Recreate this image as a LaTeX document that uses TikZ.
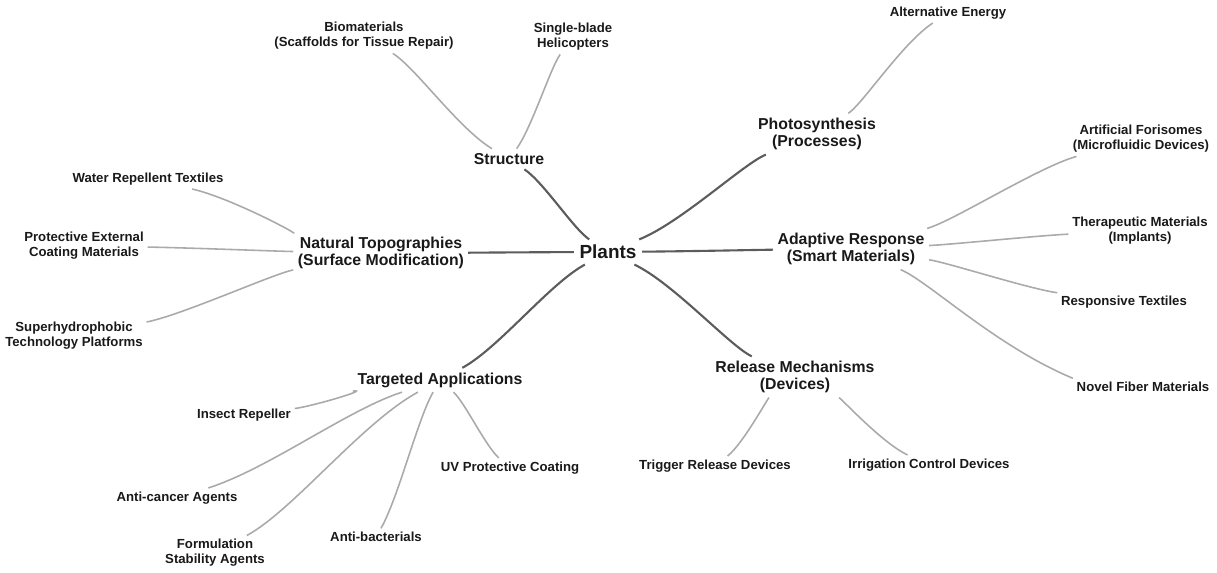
\documentclass[tikz,border=0pt]{standalone}
\usepackage{fontspec}
\setmainfont{Liberation Sans}
\usepackage{tikz}
\usetikzlibrary{calc}
\definecolor{trunk}{RGB}{92,92,92}
\definecolor{twig}{RGB}{170,170,170}
\definecolor{ink}{RGB}{25,25,25}

\begin{document}
\begin{tikzpicture}[x=0.02cm, y=-0.02cm,
    root/.style={text=ink, inner sep=3pt, font=\fontsize{10.8}{12}\selectfont\bfseries},
    topic/.style={text=ink, inner sep=2.5pt, align=center, font=\fontsize{9}{9.7}\selectfont\bfseries},
    leaf/.style={text=ink, inner sep=2pt, align=center, font=\fontsize{7.5}{8.5}\selectfont\bfseries},
    link/.style={to path={.. controls ($(\tikztostart)!0.35!(\tikztotarget|-\tikztostart)+0.25*(\tikztostart|-\tikztotarget)-0.25*(\tikztostart)$)
      and ($(\tikztotarget)!0.35!(\tikztostart|-\tikztotarget)+0.25*(\tikztotarget|-\tikztostart)-0.25*(\tikztotarget)$) .. (\tikztotarget)}},
    branch/.style={link, draw=trunk, line width=1.2pt},
    twig/.style={link, draw=twig, line width=0.9pt}]
      \useasboundingbox (0,0) rectangle (1217,573);
      % centre
      \node[root] (plants) at (608,252) {Plants};
      % first ring
      \node[topic] (structure) at (509,159) {Structure};
      \node[topic] (photo) at (817,134) {Photosynthesis\\(Processes)};
      \node[topic] (topo) at (381,253) {Natural Topographies\\(Surface Modification)};
      \node[topic] (adaptive) at (851,249) {Adaptive Response\\(Smart Materials)};
      \node[topic] (targeted) at (440,380) {Targeted Applications};
      \node[topic] (release) at (795,377) {Release Mechanisms\\(Devices)};
      % leaves
      \node[leaf] (biomat) at (364,36) {Biomaterials\\(Scaffolds for Tissue Repair)};
      \node[leaf] (heli) at (573,37) {Single-blade\\Helicopters};
      \node[leaf] (energy) at (948,13) {Alternative Energy};
      \node[leaf] (water) at (148,179) {Water Repellent Textiles};
      \node[leaf] (coating) at (84,246) {Protective External\\Coating Materials};
      \node[leaf] (superhydro) at (74,336) {Superhydrophobic\\Technology Platforms};
      \node[leaf] (forisome) at (1141,139) {Artificial Forisomes\\(Microfluidic Devices)};
      \node[leaf] (therapeutic) at (1140,231) {Therapeutic Materials\\(Implants)};
      \node[leaf] (textiles) at (1124,302) {Responsive Textiles};
      \node[leaf] (fiber) at (1143,387) {Novel Fiber Materials};
      \node[leaf] (insect) at (244,415) {Insect Repeller};
      \node[leaf] (anticancer) at (177,498) {Anti-cancer Agents};
      \node[leaf] (formulation) at (215,553) {Formulation\\Stability Agents};
      \node[leaf] (antibact) at (376,537) {Anti-bacterials};
      \node[leaf] (uvcoat) at (510,468) {UV Protective Coating};
      \node[leaf] (trigger) at (715,466) {Trigger Release Devices};
      \node[leaf] (irrigation) at (929,465) {Irrigation Control Devices};
      % trunk lines
      \draw[branch] (plants) to (structure);
      \draw[branch] (plants) to (photo);
      \draw[branch] (plants) to (topo);
      \draw[branch] (plants) to (adaptive);
      \draw[branch] (plants) to (targeted);
      \draw[branch] (plants) to (release);
      % twigs
      \draw[twig] (structure) to (biomat);
      \draw[twig] (structure) to (heli);
      \draw[twig] (photo) to (energy);
      \draw[twig] (topo) to (water);
      \draw[twig] (topo) to (coating);
      \draw[twig] (topo) to (superhydro);
      \draw[twig] (adaptive) to (forisome);
      \draw[twig] (adaptive) to (therapeutic);
      \draw[twig] (adaptive) to (textiles);
      \draw[twig] (adaptive) to (fiber.north west);
      \draw[twig] (targeted) to (insect);
      \draw[twig] (targeted) to (anticancer);
      \draw[twig] (targeted) to (formulation);
      \draw[twig] (targeted) to (antibact);
      \draw[twig] (targeted) to (uvcoat);
      \draw[twig] (release) to (trigger);
      \draw[twig] (release) to (irrigation);
\end{tikzpicture}
\end{document}
